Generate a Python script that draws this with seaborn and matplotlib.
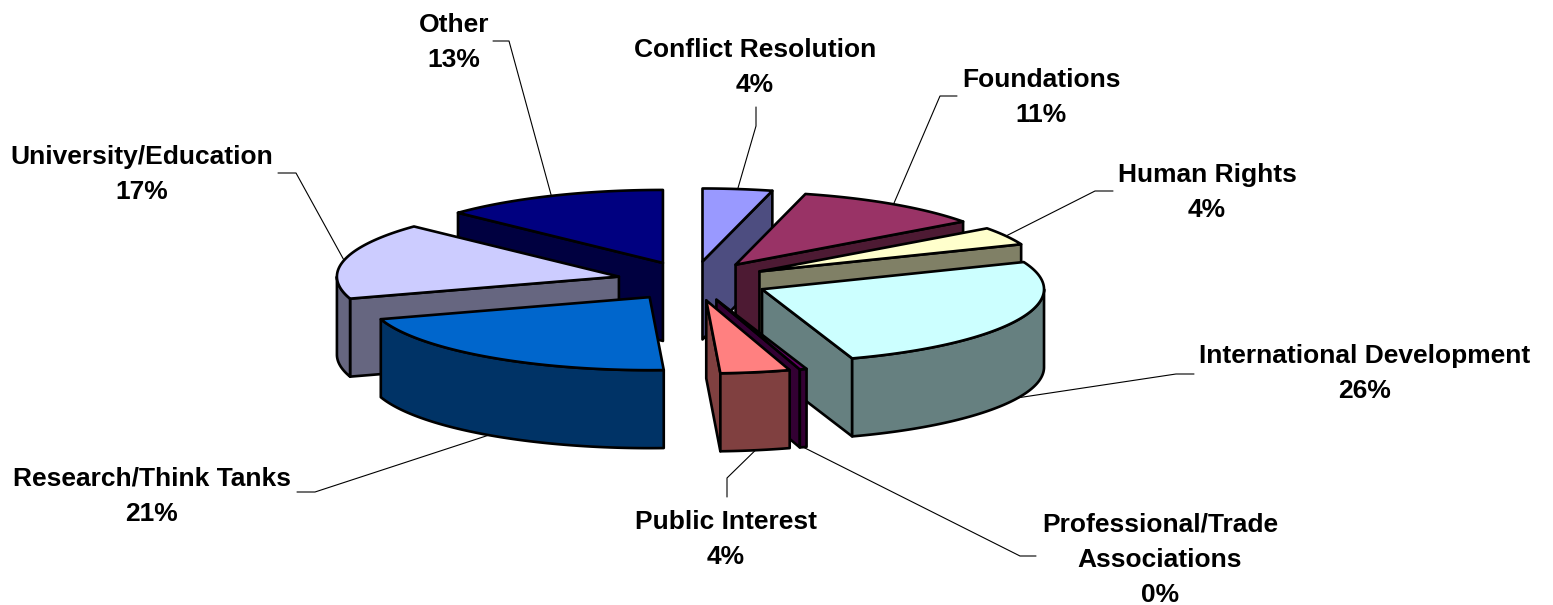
import numpy as np
import matplotlib.pyplot as plt
import matplotlib.colors as mcolors
from matplotlib.patches import Polygon
import seaborn as sns

sns.set_theme(style="white")
plt.rcParams['font.family'] = ['Liberation Sans', 'DejaVu Sans']

# data, clockwise from 12 o'clock
categories = ['Conflict Resolution', 'Foundations', 'Human Rights', 'International Development',
              'Professional/Trade\nAssociations', 'Public Interest', 'Research/Think Tanks',
              'University/Education', 'Other']
shares = [4, 11, 4, 26, 0.4, 4, 21, 17, 13]
top_colors = ['#9999FF', '#993366', '#FFFFCC', '#CCFFFF', '#660066',
              '#FF8080', '#0066CC', '#CCCCFF', '#000080']

# label layout: centre x, first baseline, tick start, tick end (pixels)
label_pos = [(755, 57), (1041, 87), (1207, 182), (1365, 363), (1160, 532),
             (726, 529), (152, 486), (142, 164), (454, 32)]
ticks = [((756, 107), (756, 126)), ((957, 96), (940, 96)), ((1113, 191), (1095, 191)),
         ((1194, 374), (1176, 374)), ((1036, 556), (1020, 556)), ((727, 497), (727, 478)),
         ((297, 492), (315, 492)), ((278, 173), (296, 173)), ((493, 41), (509, 41))]

# pie geometry (pixels)
cx, cy = 693, 281
R, RY = 282, 73
DEPTH = 78
EXPLODE = 76

W, H = 1553, 605
fig = plt.figure(figsize=(W / 100, H / 100), dpi=100)
ax = fig.add_axes([0, 0, 1, 1])
ax.set_xlim(0, W)
ax.set_ylim(H, 0)
ax.axis('off')

total = sum(shares)
pct = [round(100 * s / total) for s in shares]


def pt(t, ox, oy, dz=0.0):
    t = np.radians(t)
    return cx + ox + R * np.cos(t), cy + oy - RY * np.sin(t) + dz


def arc(a, b, ox, oy, dz=0.0):
    ts = np.linspace(a, b, max(int(abs(b - a)) * 2, 2))
    return [pt(t, ox, oy, dz) for t in ts]


slices = []
start = 90.0
for i, s in enumerate(shares):
    span = 360.0 * s / total
    hi, lo = start, start - span
    start = lo
    mid = (hi + lo) / 2
    ox = EXPLODE * np.cos(np.radians(mid))
    oy = -EXPLODE * (RY / R) * np.sin(np.radians(mid))
    slices.append(dict(i=i, lo=lo, hi=hi, mid=mid, ox=ox, oy=oy))

# back slices first
order = sorted(slices, key=lambda d: -np.sin(np.radians(d['mid'])))
edge = dict(edgecolor='black', linewidth=1.9, joinstyle='round')
for z, sl in enumerate(order):
    i, lo, hi, ox, oy = sl['i'], sl['lo'], sl['hi'], sl['ox'], sl['oy']
    top = mcolors.to_rgb(top_colors[i])
    side = tuple(np.array(top) * 0.5)
    apex = (cx + ox, cy + oy)
    apex_b = (cx + ox, cy + oy + DEPTH)
    zb = 10 + z * 5
    # radial cut faces facing the viewer
    for a, vis in ((lo, np.cos(np.radians(lo)) > 0), (hi, np.cos(np.radians(hi)) < 0)):
        if vis:
            ax.add_patch(Polygon([apex, pt(a, ox, oy), pt(a, ox, oy, DEPTH), apex_b],
                                 closed=True, facecolor=side, zorder=zb, **edge))
    # outer wall on the front half
    for k in (-1, 0, 1):
        a, b = max(lo, 360 * k - 180), min(hi, 360 * k)
        if b > a:
            pts = arc(a, b, ox, oy) + arc(b, a, ox, oy, DEPTH)
            ax.add_patch(Polygon(pts, closed=True, facecolor=side, zorder=zb + 1, **edge))
    # top face
    ax.add_patch(Polygon([apex] + arc(lo, hi, ox, oy), closed=True,
                         facecolor=top, zorder=zb + 2, **edge))

# labels and leader lines
for sl in slices:
    i = sl['i']
    ax_pt = pt(sl['mid'], sl['ox'], sl['oy'],
               DEPTH if np.sin(np.radians(sl['mid'])) < 0 else 0)
    (x0, y0), (x1, y1) = ticks[i]
    ax.plot([x0, x1, ax_pt[0]], [y0, y1, ax_pt[1]], color='black', lw=0.8, zorder=5)
    lines = categories[i].split('\n') + [f"{pct[i]}%"]
    lx, ly = label_pos[i]
    for j, line in enumerate(lines):
        ax.text(lx, ly + 35 * j, line, ha='center', va='baseline',
                fontsize=19, fontweight='bold', color='black', zorder=100)

fig.savefig('out.png', dpi=100, facecolor='white')
